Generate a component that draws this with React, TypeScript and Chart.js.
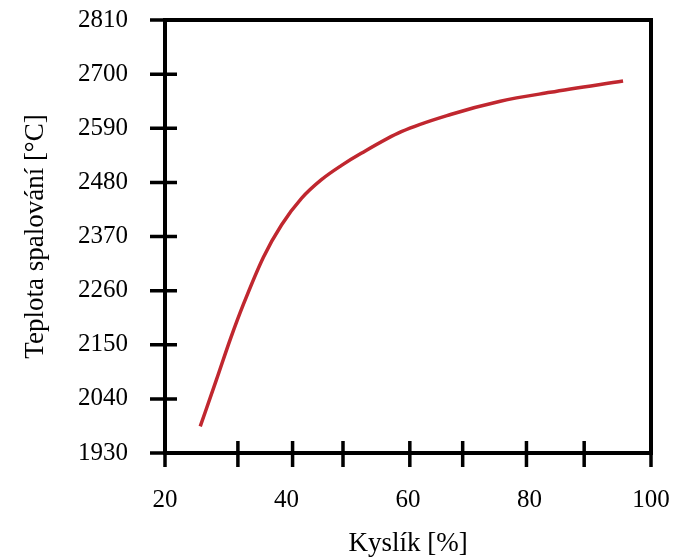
import React, { useEffect, useRef } from "react";
import { Chart, registerables } from "chart.js";

Chart.register(...registerables);

// Data
const OXYGEN = [25.8, 28.5, 30.8, 32.9, 36.2, 39.2, 42.5, 45.7, 49.0, 52.3, 58.9, 67.0, 75.2, 83.4, 95.4];
const TEMPERATURE = [1984, 2080, 2163, 2232, 2328, 2394, 2448, 2485, 2514, 2539, 2583, 2618, 2645, 2663, 2686];

// Axis ticks
const Y_TICKS = [1930, 2040, 2150, 2260, 2370, 2480, 2590, 2700, 2810];
const X_TICKS = [20, 40, 60, 80, 100];
// Tick marks on the x axis (as drawn in the reference)
const X_MARKS = [20, 32, 41, 49.3, 60.3, 69, 79.5, 89, 100];

const X_TITLE = "Kyslík [%]";
const Y_TITLE = "Teplota spalování [°C]";

const FONT = "'Liberation Serif', 'Times New Roman', serif";

const framePlugin = {
  id: "frame",
  afterDraw(chart: any) {
    const { ctx, chartArea, scales } = chart;
    const { left, right, top, bottom } = chartArea;
    const x = scales.x;
    const y = scales.y;
    ctx.save();
    ctx.strokeStyle = "#000";
    ctx.lineCap = "butt";
    ctx.lineWidth = 4;
    ctx.strokeRect(left, top, right - left, bottom - top);
    ctx.lineWidth = 3.5;
    ctx.beginPath();
    for (const v of Y_TICKS) {
      const py = y.getPixelForValue(v);
      ctx.moveTo(left - 15, py);
      ctx.lineTo(left + 12, py);
    }
    for (const v of X_MARKS) {
      const px = x.getPixelForValue(v);
      ctx.moveTo(px, bottom - 12);
      ctx.lineTo(px, bottom + 14);
    }
    ctx.stroke();
    ctx.restore();
  },
};

export default function App() {
  const canvasRef = useRef<HTMLCanvasElement | null>(null);

  useEffect(() => {
    if (!canvasRef.current) return;
    const chart = new Chart(canvasRef.current, {
      type: "line",
      data: {
        datasets: [
          {
            data: OXYGEN.map((v, i) => ({ x: v, y: TEMPERATURE[i] })),
            borderColor: "#c0272f",
            borderWidth: 3.5,
            pointRadius: 0,
            fill: false,
            cubicInterpolationMode: "monotone",
          },
        ],
      },
      options: {
        animation: false,
        responsive: false,
        layout: { padding: { top: 20, right: 49, bottom: 0, left: 0 } },
        plugins: {
          legend: { display: false },
          tooltip: { enabled: false },
        },
        scales: {
          x: {
            type: "linear",
            min: 20,
            max: 100,
            grid: { display: false, drawTicks: false },
            border: { display: false },
            afterBuildTicks: (scale: any) => {
              scale.ticks = X_TICKS.map((v) => ({ value: v }));
            },
            afterFit: (scale: any) => {
              scale.height = 107;
              scale.paddingLeft = 10;
              scale.paddingRight = 10;
            },
            ticks: {
              padding: 32,
              color: "#000",
              maxRotation: 0,
              font: { family: FONT, size: 25 },
              callback: (v: any) => String(v),
            },
            title: {
              display: true,
              text: X_TITLE,
              color: "#000",
              font: { family: FONT, size: 27 },
              padding: { top: 0, bottom: 0 },
            },
          },
          y: {
            type: "linear",
            min: 1930,
            max: 2810,
            grid: { display: false, drawTicks: false },
            border: { display: false },
            afterBuildTicks: (scale: any) => {
              scale.ticks = Y_TICKS.map((v) => ({ value: v }));
            },
            afterFit: (scale: any) => {
              scale.width = 165;
              scale.paddingTop = 10;
              scale.paddingBottom = 10;
            },
            ticks: {
              padding: 37,
              color: "#000",
              font: { family: FONT, size: 25 },
              callback: (v: any) => String(v),
            },
            title: {
              display: true,
              text: Y_TITLE,
              color: "#000",
              font: { family: FONT, size: 27 },
              padding: { top: 20, bottom: 0 },
            },
          },
        },
      },
      plugins: [framePlugin],
    } as any);
    return () => chart.destroy();
  }, []);

  return (
    <div style={{ position: "absolute", left: 0, top: 0, width: 700, height: 560, background: "#fff" }}>
      <canvas ref={canvasRef} width={700} height={560} style={{ display: "block" }} />
    </div>
  );
}
